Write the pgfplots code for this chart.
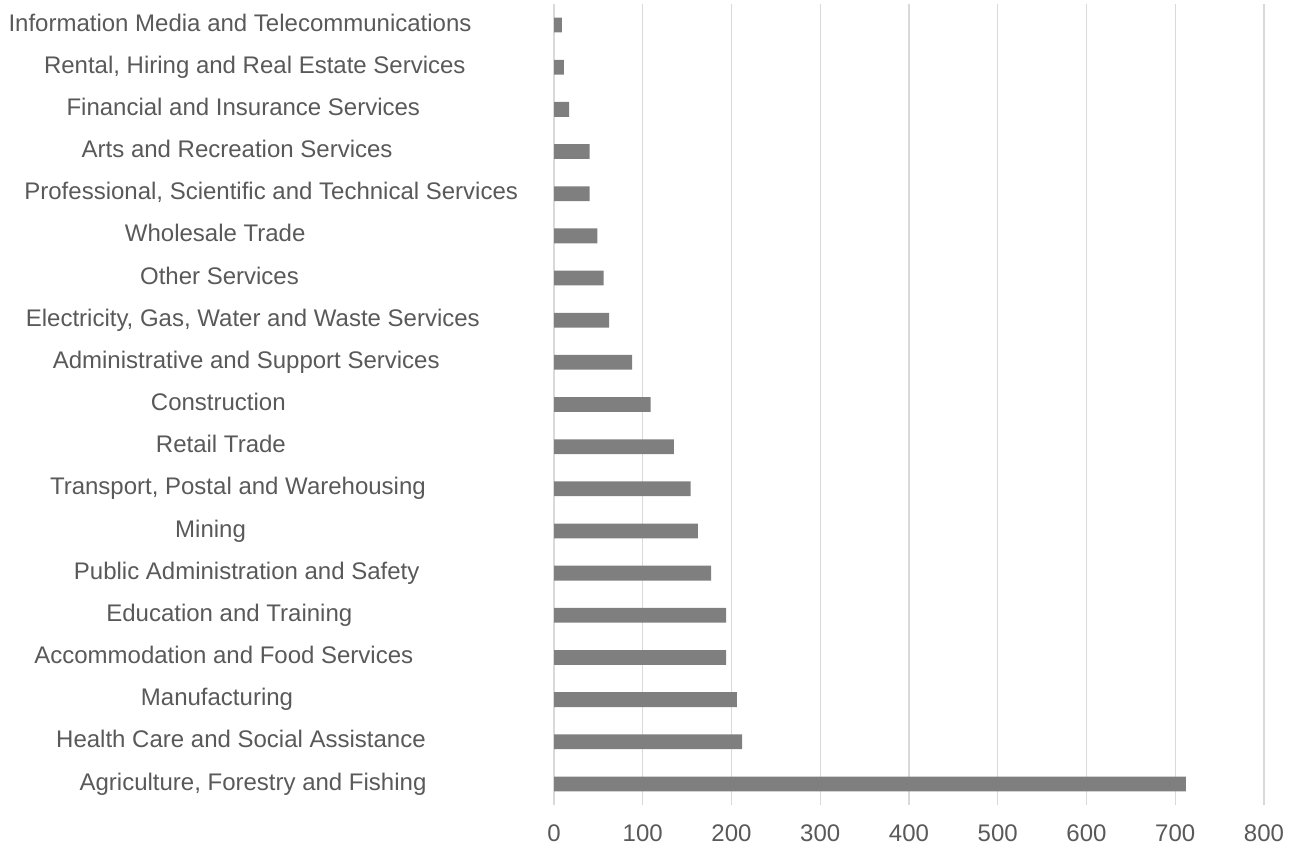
\documentclass[border=0pt]{standalone}
\usepackage{pgfplots}
\pgfplotsset{compat=1.18}
\usepackage{fontspec}
\setmainfont{Liberation Sans}
\definecolor{txt}{HTML}{595959}
\definecolor{barc}{HTML}{7F7F7F}
\definecolor{gridc}{HTML}{D9D9D9}
\pgfplotstableread{
y val
0 712
1 212
2 206
3 194
4 194
5 177
6 162
7 154
8 135
9 109
10 88
11 62
12 56
13 49
14 40
15 40
16 17
17 11
18 9
}\datatable
\begin{document}
\fontsize{12pt}{14.4pt}\selectfont
\begin{tikzpicture}
\path[use as bounding box] (0,0) rectangle (647pt,-423pt);
\begin{axis}[
  at={(277pt,-402.5pt)}, anchor=south west,
  scale only axis, width=355pt, height=400.5pt,
  xbar, bar width=7.4pt,
  xmin=0, xmax=800, ymin=-0.5, ymax=18.5,
  enlargelimits=false,
  xtick={0,100,...,800},
  ytick={0,...,18},
  yticklabels={
    {\hspace*{17pt}Agriculture, Forestry and Fishing},
    {\hspace*{5pt}Health Care and Social Assistance},
    {\hspace*{-19pt}Manufacturing},
    {\hspace*{-12.2pt}Accommodation and Food Services},
    {\hspace*{-6.7pt}Education and Training},
    {\hspace*{10.7pt}Public Administration and Safety},
    {\hspace*{-25.4pt}Mining},
    {\hspace*{1.9pt}Transport, Postal and Warehousing},
    {\hspace*{-15.1pt}Retail Trade},
    {\hspace*{-17.7pt}Construction},
    {\hspace*{10.2pt}Administrative and Support Services},
    {\hspace*{16.8pt}Electricity, Gas, Water and Waste Services},
    {\hspace*{-16.5pt}Other Services},
    {\hspace*{-20.8pt}Wholesale Trade},
    {\hspace*{35.2pt}Professional, Scientific and Technical Services},
    {\hspace*{1.1pt}Arts and Recreation Services},
    {\hspace*{7.3pt}Financial and Insurance Services},
    {\hspace*{18.8pt}Rental, Hiring and Real Estate Services},
    {\hspace*{4pt}Information Media and Telecommunications}
  },
  yticklabel style={anchor=center, xshift=-159pt, text=txt, text height=8.8pt, text depth=2.7pt, font=\fontsize{12pt}{14.4pt}\selectfont},
  xticklabel style={text=txt, anchor=north, inner sep=0pt, text height=8.7pt, text depth=0pt, yshift=-9.2pt, font=\fontsize{12pt}{14.4pt}\selectfont},
  /pgf/number format/assume math mode=true,
  axis line style={draw=none},
  tick style={draw=none},
  major tick length=0pt,
  xmajorgrids,
  grid style={gridc, line width=0.7pt},
]
\addplot[fill=barc, draw=none] table[x=val, y=y] {\datatable};
\end{axis}
\end{tikzpicture}
\end{document}
